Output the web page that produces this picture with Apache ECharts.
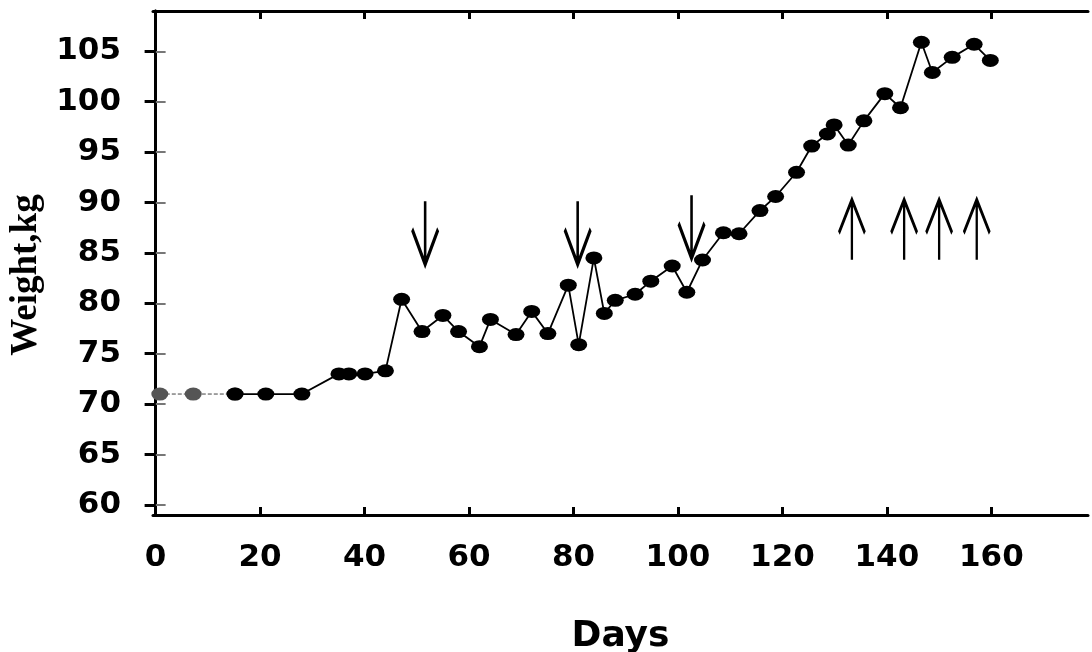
<!DOCTYPE html>
<html>
<head>
    <meta charset="utf-8">
    <title>Weight, kg vs Days</title>
    <script src="https://cdn.jsdelivr.net/npm/echarts@6/dist/echarts.min.js" type="text/javascript" charset="utf-8"></script>
    <style>
        html, body { margin: 0; padding: 0; background: #fff; }
    </style>
</head>
<body>
<div id="div01" style="width: 1092px;height: 652px;"></div>
</body>
<script type="text/javascript">

    // values
    var days = [0.8, 7.2, 15.2, 21.1, 28.0, 35.1, 37.0, 40.1, 44.0, 47.1, 51.0, 55.0, 58.0, 62.0, 64.1,
        69.0, 72.0, 75.1, 79.0, 81.0, 83.9, 85.9, 88.0, 91.8, 94.8, 98.9, 101.7, 104.7, 108.7, 111.7,
        115.7, 118.7, 122.7, 125.6, 128.6, 129.9, 132.6, 135.6, 139.6, 142.6, 146.6, 148.7, 152.5, 156.7, 159.8];
    var weights = [71.0, 71.0, 71.0, 71.0, 71.0, 73.0, 73.0, 73.0, 73.3, 80.4, 77.2, 78.8, 77.2, 75.7, 78.4,
        76.9, 79.2, 77.0, 81.8, 75.9, 84.5, 79.0, 80.3, 80.9, 82.2, 83.7, 81.1, 84.3, 87.0, 86.9,
        89.2, 90.6, 93.0, 95.6, 96.8, 97.7, 95.7, 98.1, 100.8, 99.4, 105.9, 102.9, 104.4, 105.7, 104.1];
    var greyCount = 2; // first two points drawn grey, joined by a dashed line

    var xTicks = [0, 20, 40, 60, 80, 100, 120, 140, 160];
    var yTicks = [60, 65, 70, 75, 80, 85, 90, 95, 100, 105];

    // arrows
    var arrowDownDays = [51.6, 80.8, 102.6];
    var arrowDownLevel = [87.0, 87.0, 87.6];
    var arrowUpDays = [133.3, 143.3, 150.0, 157.2];
    var arrowUpLevel = 87.3;

    var pts = days.map(function (d, i) { return [d, weights[i]]; });

    var downArrow = 'path://M13,0 L13,63 M0,28 L13,63 L26,28';
    var upArrow = 'path://M13,63 L13,0 M0,35 L13,0 L26,35';

    var myChart = echarts.init(document.getElementById("div01"));

    var tickFont = {
        fontFamily: 'DejaVu Sans',
        fontWeight: 'bold',
        fontSize: 31,
        color: '#000'
    };

    myChart.setOption({
        animation: false,
        grid: {
            left: 153,
            right: 4,
            top: 11,
            bottom: 137,
            outerBoundsMode: 'none'
        },
        xAxis: [{
            type: 'value',
            min: -0.5,
            max: 178.5,
            position: 'bottom',
            name: 'Days',
            nameLocation: 'middle',
            nameGap: 104,
            nameTextStyle: {
                fontFamily: 'DejaVu Sans',
                fontWeight: 'bold',
                fontSize: 36,
                color: '#000'
            },
            splitLine: {show: false},
            axisLine: {lineStyle: {color: '#000', width: 3}},
            axisTick: {inside: true, length: 8, lineStyle: {color: '#000', width: 3}, customValues: xTicks},
            axisLabel: Object.assign({margin: 27, customValues: xTicks}, tickFont)
        }, {
            type: 'value',
            min: -0.5,
            max: 178.5,
            position: 'top',
            splitLine: {show: false},
            axisLine: {lineStyle: {color: '#000', width: 3}},
            axisTick: {inside: true, length: 8, lineStyle: {color: '#000', width: 3}, customValues: xTicks},
            axisLabel: {show: false}
        }],
        yAxis: [{
            type: 'value',
            min: 59,
            max: 109,
            position: 'left',
            name: 'Weight,kg',
            nameLocation: 'middle',
            nameGap: 108,
            nameTextStyle: {
                fontFamily: 'Liberation Serif',
                fontWeight: 'bold',
                fontSize: 37,
                color: '#000',
                padding: [0, 24, 0, 0]
            },
            splitLine: {show: false},
            axisLine: {lineStyle: {color: '#000', width: 3}},
            axisTick: {inside: true, length: 10, lineStyle: {color: '#777', width: 2}, customValues: yTicks},
            axisLabel: Object.assign({margin: 32, customValues: yTicks}, tickFont)
        }, {
            type: 'value',
            min: 59,
            max: 109,
            position: 'right',
            splitLine: {show: false},
            axisLine: {lineStyle: {color: '#000', width: 3}},
            axisTick: {inside: true, length: 11, lineStyle: {color: '#000', width: 3}, customValues: yTicks},
            axisLabel: {show: false}
        }],
        series: [{
            // early points, grey with dashed join
            type: 'line',
            data: pts.slice(0, greyCount + 1),
            symbol: 'circle',
            symbolSize: [17, 13],
            itemStyle: {color: '#555'},
            lineStyle: {color: '#444', width: 1, type: 'dashed'},
            silent: true,
            z: 2
        }, {
            type: 'line',
            data: pts.slice(greyCount),
            symbol: 'circle',
            symbolSize: [17, 13],
            itemStyle: {color: '#000'},
            lineStyle: {color: '#000', width: 1.8},
            silent: true,
            z: 3
        }, {
            type: 'scatter',
            data: arrowDownDays.map(function (d, i) { return [d, arrowDownLevel[i]]; }),
            symbol: downArrow,
            symbolSize: [26, 63],
            itemStyle: {color: 'transparent', borderColor: '#000', borderWidth: 4, opacity: 1},
            silent: true,
            z: 4
        }, {
            type: 'scatter',
            data: arrowUpDays.map(function (d) { return [d, arrowUpLevel]; }),
            symbol: upArrow,
            symbolSize: [26, 60],
            itemStyle: {color: 'transparent', borderColor: '#000', borderWidth: 3.5, opacity: 1},
            silent: true,
            z: 4
        }]
    });
</script>
</html>
